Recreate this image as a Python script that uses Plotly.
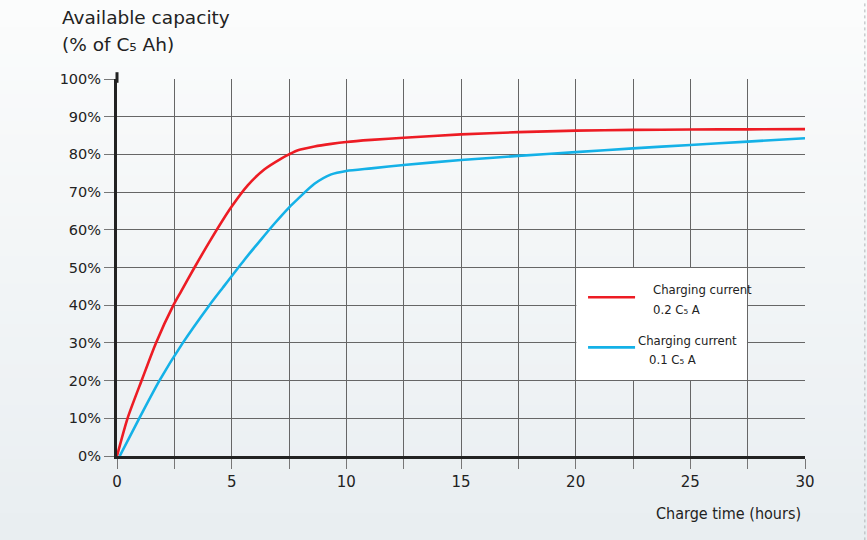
import plotly.graph_objects as go

# ---- data ----
red_x = [0, 0.46, 1.09, 1.7, 2.46, 2.79, 3.36, 4.09, 4.97, 5.7, 6.42, 7.16, 7.5, 7.89, 8.61, 9.34, 10, 11.09, 12.5, 15, 17.5, 20, 22.5, 25, 27.5, 30]
red_y = [0, 10, 20.3, 30, 40, 43.6, 49.8, 57.4, 65.9, 71.8, 76, 78.9, 80, 81.1, 82.1, 82.8, 83.3, 83.85, 84.4, 85.3, 85.9, 86.3, 86.5, 86.6, 86.65, 86.7]
blue_x = [0.12, 0.97, 1.85, 2.87, 4.03, 4.62, 5.55, 6.28, 6.86, 7.5, 7.89, 8.61, 9.34, 10, 11.09, 12.5, 15, 17.5, 20, 22.5, 25, 27.5, 30]
blue_y = [0, 10, 20, 30, 40, 44.7, 52, 57.4, 61.6, 65.9, 68.2, 72.2, 74.7, 75.6, 76.3, 77.2, 78.5, 79.6, 80.6, 81.6, 82.5, 83.4, 84.3]
x_tickvals = [0, 2.5, 5, 7.5, 10, 12.5, 15, 17.5, 20, 22.5, 25, 27.5, 30]
x_ticktext = ["0", "", "5", "", "10", "", "15", "", "20", "", "25", "", "30"]
y_tickvals = [0, 10, 20, 30, 40, 50, 60, 70, 80, 90, 100]
y_ticktext = ["0%", "10%", "20%", "30%", "40%", "50%", "60%", "70%", "80%", "90%", "100%"]

RED = "#ed1c24"
BLUE = "#14b1e7"
COND = "Liberation Sans Narrow, DejaVu Sans Condensed, Roboto Condensed, Arial Narrow, sans-serif"
MAIN = "DejaVu Sans, Verdana, sans-serif"

fig = go.Figure()
fig.add_trace(go.Scatter(x=red_x, y=red_y, mode="lines", line=dict(color=RED, width=2.6, shape="spline", smoothing=0.7),
                         showlegend=False, hoverinfo="skip"))
fig.add_trace(go.Scatter(x=blue_x, y=blue_y, mode="lines", line=dict(color=BLUE, width=2.6, shape="spline", smoothing=0.7),
                         showlegend=False, hoverinfo="skip"))

shapes = []
# background vertical gradient (paper coordinates extended to cover margins)
top_c = (251, 252, 252)
bot_c = (233, 238, 241)
n = 40
y_top = 1 + 78.6 / 377
y_bot = -(540 - 455.6) / 377
for i in range(n):
    t = i / (n - 1)
    c = tuple(round(top_c[k] + (bot_c[k] - top_c[k]) * t) for k in range(3))
    y1 = y_top - (y_top - y_bot) * i / n + 0.002
    y0 = y_top - (y_top - y_bot) * (i + 1) / n - 0.002
    shapes.append(dict(type="rect", xref="paper", yref="paper", x0=-0.2, x1=1.12, y0=y0, y1=y1,
                       fillcolor="rgb(%d,%d,%d)" % c, line=dict(width=0), layer="below"))
# legend box
shapes.append(dict(type="rect", xref="x", yref="y", x0=20.03, x1=27.47, y0=20.15, y1=49.85,
                   fillcolor="white", line=dict(width=0), layer="between"))
# legend samples
shapes.append(dict(type="line", xref="x", yref="y", x0=20.54, x1=22.59, y0=42.1, y1=42.1, line=dict(color=RED, width=2.6)))
shapes.append(dict(type="line", xref="x", yref="y", x0=20.54, x1=22.59, y0=28.8, y1=28.8, line=dict(color=BLUE, width=2.6)))
# y-axis line extension above 100%
shapes.append(dict(type="line", xref="paper", yref="paper", x0=0, x1=0, y0=0.99, y1=1.018, line=dict(color="#222222", width=3)))
# dotted right border
shapes.append(dict(type="line", xref="paper", yref="paper", x0=1.087, x1=1.087, y0=y_bot, y1=y_top,
                   line=dict(color="#b0b4b8", width=1, dash="dot"), layer="above"))

annotations = [
    dict(text="Available capacity", xref="paper", yref="paper", x=-0.0828, y=1.163, xanchor="left", yanchor="middle",
         showarrow=False, font=dict(family=MAIN, size=18.5, color="#222")),
    dict(text="(% of C₅ Ah)", xref="paper", yref="paper", x=-0.0828, y=1.092, xanchor="left", yanchor="middle",
         showarrow=False, font=dict(family=MAIN, size=18.5, color="#222")),
    dict(text="Charge time (hours)", xref="paper", yref="paper", x=0.997, y=-0.152, xanchor="right", yanchor="middle",
         showarrow=False, font=dict(family=COND, size=16, color="#222")),
    dict(text="Charging current", xref="x", yref="y", x=23.29, y=44.2, xanchor="left", yanchor="middle",
         showarrow=False, font=dict(family=COND, size=13, color="#222")),
    dict(text="0.2 C₅ A", xref="x", yref="y", x=23.29, y=38.9, xanchor="left", yanchor="middle",
         showarrow=False, font=dict(family=COND, size=13, color="#222")),
    dict(text="Charging current", xref="x", yref="y", x=22.63, y=30.7, xanchor="left", yanchor="middle",
         showarrow=False, font=dict(family=COND, size=13, color="#222")),
    dict(text="0.1 C₅ A", xref="x", yref="y", x=23.11, y=25.6, xanchor="left", yanchor="middle",
         showarrow=False, font=dict(family=COND, size=13, color="#222")),
]

fig.update_layout(
    width=867, height=540,
    margin=dict(l=117, r=62, t=78.6, b=84.4),
    paper_bgcolor="#eef1f4",
    plot_bgcolor="rgba(0,0,0,0)",
    shapes=shapes,
    annotations=annotations,
    showlegend=False,
)
fig.update_xaxes(range=[0, 30], tickvals=x_tickvals, ticktext=x_ticktext, ticks="outside", ticklen=10,
                 tickcolor="#777", tickwidth=1, showgrid=True, gridcolor="#666", gridwidth=1,
                 showline=True, linecolor="#222", linewidth=3, zeroline=False,
                 tickfont=dict(family=MAIN, size=15, color="#222"))
fig.update_yaxes(range=[0, 100], tickvals=y_tickvals, ticktext=y_ticktext, ticks="outside", ticklen=10,
                 tickcolor="#777", tickwidth=1, showgrid=True, gridcolor="#666", gridwidth=1,
                 showline=True, linecolor="#222", linewidth=3, zeroline=False,
                 tickfont=dict(family=MAIN, size=14.5, color="#222"))

fig.write_html("out.html", config={"displayModeBar": False},
               post_script="document.body.style.margin='0';")
